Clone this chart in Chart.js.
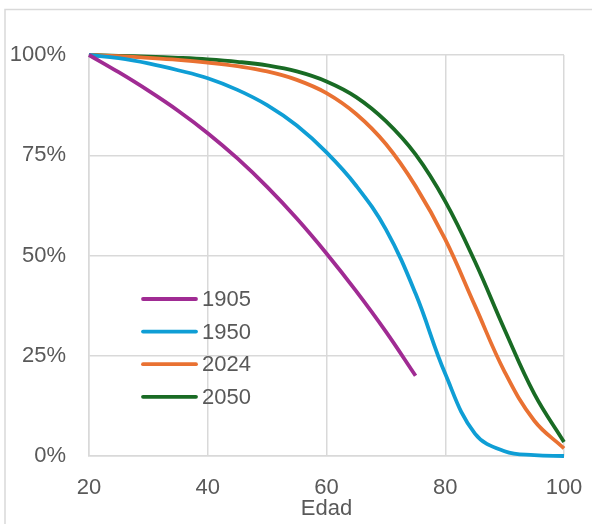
<!DOCTYPE html>
<html>
<head>
<meta charset="utf-8">
<script src="https://cdn.jsdelivr.net/npm/chart.js@4"></script>
<style>
  html, body { margin: 0; padding: 0; background: #ffffff; }
  #wrap { width: 592px; height: 524px; }
</style>
</head>
<body>
<div id="wrap"><canvas id="chart" width="592" height="524"></canvas></div>
<script>
// edad (años)
const ages = [20, 25, 30, 35, 40, 45, 50, 55, 60, 65, 70, 75, 80, 85, 90, 95, 100];

// supervivencia (%) por año de la tabla
const s1905 = [100, 95.7, 91.1, 86.1, 80.5, 74.2, 67.1, 59.2, 50.5, 41.1, 31, 20];
const s1950 = [100, 99.2, 97.9, 96.2, 94.2, 91.3, 87.5, 82.4, 75.7, 67.4, 56.5, 40.5, 20.5, 5.6, 1.2, 0.2, 0];
const s2024 = [100, 99.7, 99.3, 98.8, 98.1, 97.2, 95.9, 93.8, 90.5, 85.3, 77.8, 67.3, 54, 37.5, 21, 8.8, 1.9];
const s2050 = [100, 99.8, 99.6, 99.3, 98.9, 98.3, 97.4, 95.9, 93.4, 89.5, 83.5, 75.2, 63.5, 48.5, 31.5, 15.5, 3.5];

const seriesLabels = ["1905", "1950", "2024", "2050"];
const seriesColors = ["#A02B93", "#0F9ED5", "#E97132", "#196B24"];
const xTicks = [20, 40, 60, 80, 100];
const yTicks = [0, 25, 50, 75, 100];

const toPoints = vals => vals.map((v, i) => ({ x: ages[i], y: v }));
const allSeries = [s1905, s1950, s2024, s2050];

const GRID = "#d9d9d9";
const TEXT = "#595959";
const FONT = "'Liberation Sans', Arial, sans-serif";

const frame = {
    id: "frame",
    beforeDraw(chart) {
        const ctx = chart.ctx;
        ctx.save();
        ctx.strokeStyle = GRID;
        ctx.lineWidth = 1.5;
        ctx.strokeRect(5, 9.5, 800, 800);
        ctx.restore();
    },
};

const insideLegend = {
    id: "insideLegend",
    afterDraw(chart) {
        const ctx = chart.ctx;
        const x0 = chart.chartArea.left + 54;
        const y0 = 299;
        ctx.save();
        ctx.font = "22px " + FONT;
        ctx.textBaseline = "middle";
        ctx.textAlign = "left";
        chart.data.datasets.forEach((ds, i) => {
            const y = y0 + i * 32.6;
            ctx.strokeStyle = ds.borderColor;
            ctx.lineWidth = 3.8;
            ctx.lineCap = "round";
            ctx.beginPath();
            ctx.moveTo(x0, y);
            ctx.lineTo(x0 + 53, y);
            ctx.stroke();
            ctx.fillStyle = TEXT;
            ctx.fillText(ds.label, x0 + 59, y + 1);
        });
        ctx.restore();
    },
};

const chart = new Chart(document.getElementById("chart").getContext("2d"), {
    type: "line",
    data: {
        datasets: allSeries.map((vals, i) => ({
            label: seriesLabels[i],
            data: toPoints(vals),
            borderColor: seriesColors[i],
            backgroundColor: seriesColors[i],
            borderWidth: 3.8,
            pointRadius: 0,
            tension: 0.4,
            fill: false,
            clip: false,
        })),
    },
    options: {
        responsive: false,
        animation: false,
        layout: {
            padding: { left: 10, right: 28, top: 55, bottom: 3 },
        },
        plugins: {
            legend: { display: false },
            tooltip: { enabled: false },
        },
        scales: {
            x: {
                type: "linear",
                min: 20,
                max: 100,
                afterBuildTicks: axis => {
                    axis.ticks = xTicks.map(v => ({ value: v }));
                },
                afterFit: axis => {
                    axis.height = 65;
                    axis.paddingLeft = 0;
                    axis.paddingRight = 0;
                },
                grid: { color: GRID, lineWidth: 1.5, drawTicks: false },
                border: { color: GRID, width: 1.5 },
                ticks: {
                    color: TEXT,
                    font: { family: FONT, size: 22, lineHeight: 1 },
                    padding: 20.5,
                    maxRotation: 0,
                },
                title: {
                    display: true,
                    text: "Edad",
                    color: TEXT,
                    font: { family: FONT, size: 22, lineHeight: 1 },
                    padding: { top: 0, bottom: 1 },
                },
            },
            y: {
                min: 0,
                max: 100,
                afterBuildTicks: axis => {
                    axis.ticks = yTicks.map(v => ({ value: v }));
                },
                afterFit: axis => {
                    axis.width = 79;
                },
                grid: { color: GRID, lineWidth: 1.5, drawTicks: false },
                border: { color: GRID, width: 1.5 },
                ticks: {
                    color: TEXT,
                    font: { family: FONT, size: 22, lineHeight: 1 },
                    padding: 23,
                    callback: v => v + "%",
                },
            },
        },
    },
    plugins: [frame, insideLegend],
});
</script>
</body>
</html>
